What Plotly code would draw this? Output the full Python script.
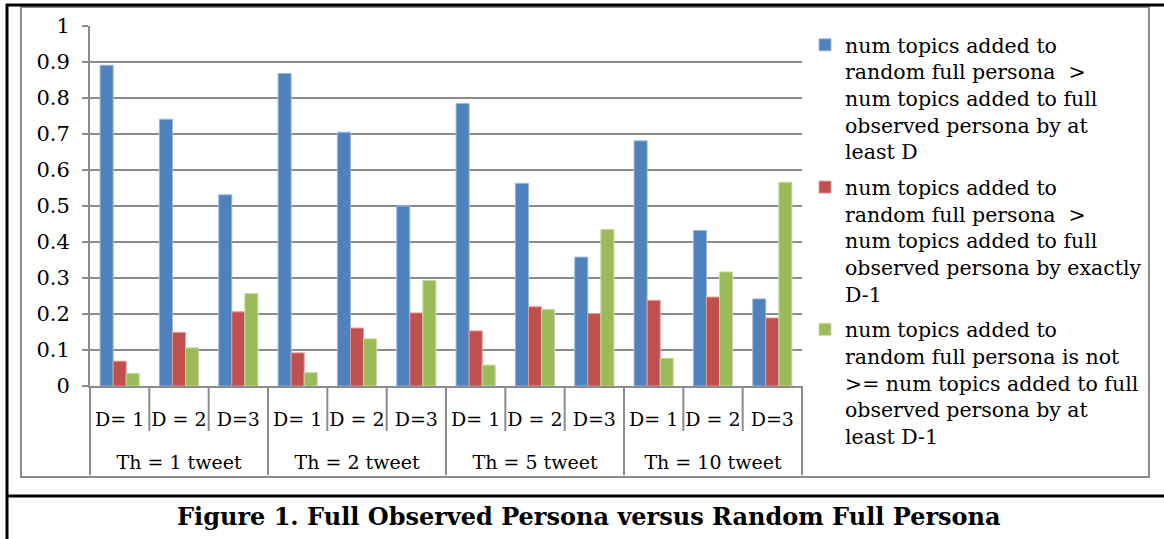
import plotly.graph_objects as go

# ---- data ----
groups = ["Th = 1 tweet", "Th = 2 tweet", "Th = 5 tweet", "Th = 10 tweet"]
subs = ["D= 1", "D = 2", "D=3"]

at_least_d = [0.891, 0.741, 0.531, 0.868, 0.705, 0.500, 0.785, 0.563, 0.358, 0.681, 0.432, 0.242]
exactly_d1 = [0.069, 0.149, 0.206, 0.092, 0.161, 0.203, 0.153, 0.220, 0.201, 0.238, 0.247, 0.189]
not_ge_d1 = [0.035, 0.106, 0.257, 0.037, 0.131, 0.293, 0.058, 0.213, 0.435, 0.077, 0.317, 0.566]

series_names = [
    "num topics added to<br>random full persona&nbsp; &gt;<br>num topics added to full<br>observed persona by at<br>least D",
    "num topics added to<br>random full persona&nbsp; &gt;<br>num topics added to full<br>observed persona by exactly<br>D-1",
    "num topics added to<br>random full persona is not<br>&gt;= num topics added to full<br>observed persona by at<br>least D-1",
]
colors = ["#4F81BD", "#C0504D", "#9BBB59"]
edge_colors = ["#9DB7DA", "#DE9C9A", "#C6D9A4"]

caption = "Figure 1. Full Observed Persona versus Random Full Persona"

# ---- figure ----
cat_ids = [g + "|" + s for g in groups for s in subs]
sub_text = [s for _ in groups for s in subs]

W, H = 1164, 539
L, R, T = 90, 362, 26
PAPER_BOTTOM = 480          # px where paper y = 0
PLOT_BOTTOM = 386           # px of value 0
B = H - PAPER_BOTTOM
pw, ph = W - L - R, PAPER_BOTTOM - T

def px_x(px):
    return (px - L) / pw

def px_y(py):
    return (PAPER_BOTTOM - py) / ph

FONT = "DejaVu Serif"
GREY = "#8C8C8C"

fig = go.Figure()
for vals, name, c, ec in zip([at_least_d, exactly_d1, not_ge_d1], series_names, colors, edge_colors):
    fig.add_trace(go.Bar(
        x=cat_ids, y=vals, name=name,
        marker=dict(color=c, line=dict(color=ec, width=1)),
        legendgroup=name,
    ))
# invisible carrier for the group-label axis
fig.add_trace(go.Scatter(x=groups, y=[0] * len(groups), xaxis="x2", yaxis="y",
                         mode="markers", marker=dict(opacity=0), showlegend=False,
                         hoverinfo="skip"))

n_cat = len(cat_ids)
shapes = []
shapes.append(dict(type="rect", xref="paper", yref="paper",
                   x0=px_x(21), x1=px_x(1149), y0=px_y(477), y1=px_y(7),
                   line=dict(color=GREY, width=2), layer="below"))
for k in range(n_cat + 1):
    is_group = (k % len(subs) == 0)
    shapes.append(dict(type="line", xref="paper", yref="paper",
                       x0=k / n_cat, x1=k / n_cat, y0=px_y(PLOT_BOTTOM),
                       y1=px_y(475) if is_group else px_y(431),
                       line=dict(color=GREY, width=2)))
shapes.append(dict(type="line", xref="paper", yref="paper",
                   x0=px_x(6), x1=px_x(W), y0=px_y(5), y1=px_y(5),
                   line=dict(color="black", width=3)))
shapes.append(dict(type="line", xref="paper", yref="paper",
                   x0=px_x(7), x1=px_x(7), y0=px_y(4), y1=px_y(H),
                   line=dict(color="black", width=3)))
shapes.append(dict(type="line", xref="paper", yref="paper",
                   x0=px_x(7), x1=px_x(W), y0=px_y(496), y1=px_y(496),
                   line=dict(color="black", width=3)))

fig.update_layout(
    width=W, height=H,
    margin=dict(l=L, r=R, t=T, b=B, autoexpand=False),
    paper_bgcolor="white", plot_bgcolor="white",
    font=dict(family=FONT, size=19, color="black"),
    barmode="group", bargap=0.34, bargroupgap=0,
    showlegend=True,
    legend=dict(x=px_x(805), y=px_y(25), xanchor="left", yanchor="top",
                valign="top", tracegroupgap=6, maxheight=520,
                font=dict(family=FONT, size=20.5, color="black"),
                bgcolor="rgba(0,0,0,0)"),
    shapes=shapes,
    annotations=[dict(text="<b>" + caption + "</b>", xref="paper", yref="paper",
                      x=px_x(589), y=px_y(516), xanchor="center", yanchor="middle",
                      showarrow=False, font=dict(family=FONT, size=24, color="black"))],
    xaxis=dict(type="category", categoryorder="array", categoryarray=cat_ids,
               tickvals=cat_ids, ticktext=sub_text, range=[-0.5, n_cat - 0.5],
               showline=True, linecolor=GREY, linewidth=2, ticks="", showgrid=False,
               ticklabelstandoff=15,
               tickfont=dict(family=FONT, size=19, color="black")),
    xaxis2=dict(type="category", categoryorder="array", categoryarray=groups,
                overlaying="x", anchor="free", position=px_y(449), side="bottom",
                range=[-0.5, len(groups) - 0.5], showline=False, ticks="", showgrid=False,
                tickfont=dict(family=FONT, size=19, color="black")),
    yaxis=dict(domain=[px_y(PLOT_BOTTOM), 1], range=[0, 1], dtick=0.1, tick0=0,
               showgrid=True, gridcolor=GREY, gridwidth=1.5,
               showline=True, linecolor=GREY, linewidth=2,
               ticks="outside", ticklen=6, tickcolor=GREY, tickwidth=2,
               ticklabelstandoff=8,
               zeroline=False, tickfont=dict(family=FONT, size=21, color="black")),
)

fig.write_html("out.html", config={"displayModeBar": False},
               post_script="document.body.style.margin='0';")
